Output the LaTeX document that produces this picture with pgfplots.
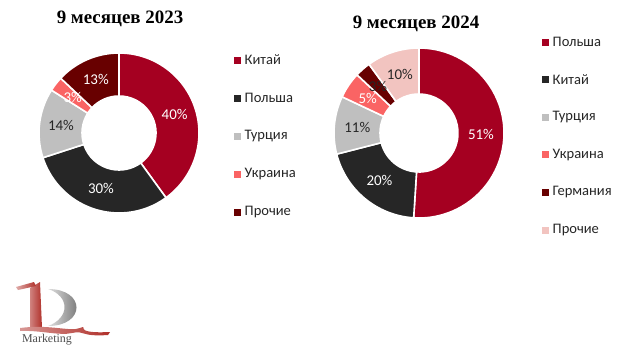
\documentclass[border=0pt]{standalone}
\usepackage{pgfplots}
\pgfplotsset{compat=1.18}
\usepackage{pgfplotstable}
\usepackage{fontspec}
\setmainfont{Carlito}
\newfontfamily\tnr{Liberation Serif}

\definecolor{cA}{HTML}{A50021}
\definecolor{cB}{HTML}{262626}
\definecolor{cC}{HTML}{BFBFBF}
\definecolor{cD}{HTML}{FA6464}
\definecolor{cE}{HTML}{680000}
\definecolor{cF}{HTML}{F2C4C0}
\definecolor{logored}{HTML}{B0302A}

\pgfplotstableread{
name v col txt
Китай 40 cA white
Польша 30 cB white
Турция 14 cC cB
Украина 3 cD white
Прочие 13 cE white
}\tblA

\pgfplotstableread{
name v col txt
Польша 51 cA white
Китай 20 cB white
Турция 11 cC cB
Украина 5 cD white
Германия 3 cE cB
Прочие 10 cF cB
}\tblB

\newcommand\lblfont{\fontsize{15}{16}\selectfont}
\newcommand\legfont{\fontsize{14.6}{16}\selectfont}

% #1 table, #2 cx, #3 cy, #4 R, #5 r
\newcommand\donut[5]{%
  \pgfplotstablegetrowsof{#1}%
  \pgfmathtruncatemacro\nlast{\pgfplotsretval-1}%
  \def\cum{0}%
  \pgfplotsforeachungrouped \rr in {0,...,\nlast}{%
    \pgfplotstablegetelem{\rr}{v}\of#1\let\val\pgfplotsretval
    \pgfplotstablegetelem{\rr}{col}\of#1\let\col\pgfplotsretval
    \pgfmathsetmacro\angA{90-3.6*\cum}%
    \pgfmathsetmacro\angB{90-3.6*(\cum+\val)}%
    \fill[fill=\col,draw=white,line width=1.6bp,line join=miter]
      ({#2+#4*cos(\angA)},{#3+#4*sin(\angA)})
      arc[start angle=\angA,end angle=\angB,radius=#4bp]
      -- ({#2+#5*cos(\angB)},{#3+#5*sin(\angB)})
      arc[start angle=\angB,end angle=\angA,radius=#5bp] -- cycle;
    \pgfmathsetmacro\cum{\cum+\val}%
  }%
  \def\cum{0}%
  \pgfplotsforeachungrouped \rr in {0,...,\nlast}{%
    \pgfplotstablegetelem{\rr}{v}\of#1\let\val\pgfplotsretval
    \pgfplotstablegetelem{\rr}{txt}\of#1\let\txt\pgfplotsretval
    \pgfmathsetmacro\angM{90-3.6*(\cum+\val/2)}%
    \pgfmathsetmacro\rmid{(#4+#5)/2}%
    \node[text=\txt,font=\lblfont,inner sep=0pt] at ({#2+\rmid*cos(\angM)},{#3+\rmid*sin(\angM)}) {\val\%};
    \pgfmathsetmacro\cum{\cum+\val}%
  }%
}

% #1 table, #2 marker x, #3 top y, #4 step
\newcommand\legendtab[4]{%
  \pgfplotstablegetrowsof{#1}%
  \pgfmathtruncatemacro\nlast{\pgfplotsretval-1}%
  \pgfplotsforeachungrouped \rr in {0,...,\nlast}{%
    \pgfplotstablegetelem{\rr}{name}\of#1\let\nm\pgfplotsretval
    \pgfplotstablegetelem{\rr}{col}\of#1\let\col\pgfplotsretval
    \pgfmathsetmacro\yy{#3-#4*\rr}%
    \fill[fill=\col] ({#2-3.5},{\yy-3.5}) rectangle ({#2+3.5},{\yy+3.5});
    \node[anchor=west,font=\legfont,text=cB,inner sep=0pt] at ({#2+7.5},{\yy}) {\nm};
  }%
}

\begin{document}
\begin{tikzpicture}
\begin{axis}[x=1bp,y=1bp,xmin=0,xmax=631,ymin=0,ymax=362,
  hide axis,clip=false,scale only axis]
\addplot[draw=none] coordinates {(0,0) (631,362)};
\pgfplotsextra{%
  \donut{\tblA}{119}{229}{80}{37}%
  \donut{\tblB}{419}{229}{85}{39}%
  \node[font=\tnr\bfseries\fontsize{19}{20}\selectfont,text=black] at (120,343) {9 месяцев 2023};
  \node[font=\tnr\bfseries\fontsize{19}{20}\selectfont,text=black] at (416,338) {9 месяцев 2024};
  \begin{scope}
    \clip (225,0) rectangle (295,362);
    \legendtab{\tblA}{237}{302}{38}%
  \end{scope}
  \legendtab{\tblB}{545}{320}{37.6}%
  % logo
  \shade[left color=gray!25,right color=gray!75!black]
    (48,73) .. controls (86,73) and (86,36) .. (48,36)
    .. controls (70,44) and (70,66) .. (48,73) -- cycle;
  \shade[left color=logored!60,right color=logored]
    (30,74) -- (40,80) -- (42,34) -- (30,34) -- cycle;
  \shade[left color=logored!40,right color=logored]
    (16,75) -- (34,80) -- (36,76) -- (18,72) -- cycle;
  \shade[left color=logored!50,right color=logored]
    (20,34) .. controls (50,38) and (70,30) .. (80,34)
    .. controls (90,38) and (70,28) .. (110,30)
    -- (108,27) .. controls (80,25) and (85,32) .. (72,29)
    .. controls (60,26) and (40,32) .. (20,31) -- cycle;
  \node[font=\tnr\fontsize{12}{12}\selectfont,text=gray!60!black,inner sep=0pt] at (47,22) {Marketing};
}
\end{axis}
\end{tikzpicture}
\end{document}
